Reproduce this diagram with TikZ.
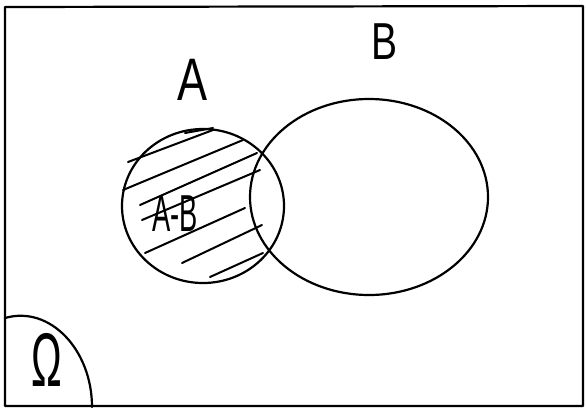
\documentclass[tikz,border=0pt]{standalone}
\usepackage{fontspec}
\setmainfont{Liberation Sans}
\begin{document}
\begin{tikzpicture}[x=1pt,y=-1pt,
  pen/.style={line width=2.2pt,line cap=round,line join=round},
  hatch/.style={line width=2pt,line cap=round},
  lab/.style={inner sep=0pt,font=\fontsize{60}{60}\selectfont,xscale=0.75}]
\useasboundingbox[fill=white] (0,0) rectangle (586,413);
% universe rectangle
\draw[pen] (5,7) -- (583,6) -- (583,406) -- (5,406) -- cycle;
% corner arc for Omega
\draw[pen] (5,318) .. controls (50,305) and (92,350) .. (92,407);
% sets
\draw[pen] (203,206) ellipse [x radius=81, y radius=77];
\draw[pen] (369,197) ellipse [x radius=119, y radius=98];
% hatching of A - B
\draw[hatch] (128,162) -- (213,130);
\draw[hatch] (185,133) -- (213,128);
\draw[hatch] (123,190) -- (243,140);
\draw[hatch] (140,205) -- (257,153);
\draw[hatch] (142,220) -- (260,170);
\draw[hatch] (145,253) -- (245,208);
\draw[hatch] (182,263) -- (262,225);
\draw[hatch] (210,277) -- (263,253);
% labels
\node[lab] (la) at (193,80) {A};
\node[lab,font=\fontsize{52}{52}\selectfont] (lb) at (385,42) {B};
\node[lab,font=\fontsize{52}{52}\selectfont,xscale=0.7] (lab) at (175,214) {A-B};
\node[lab,font=\fontsize{76}{76}\selectfont,xscale=0.72] (om) at (47,360) {Ω};
\end{tikzpicture}
\end{document}
